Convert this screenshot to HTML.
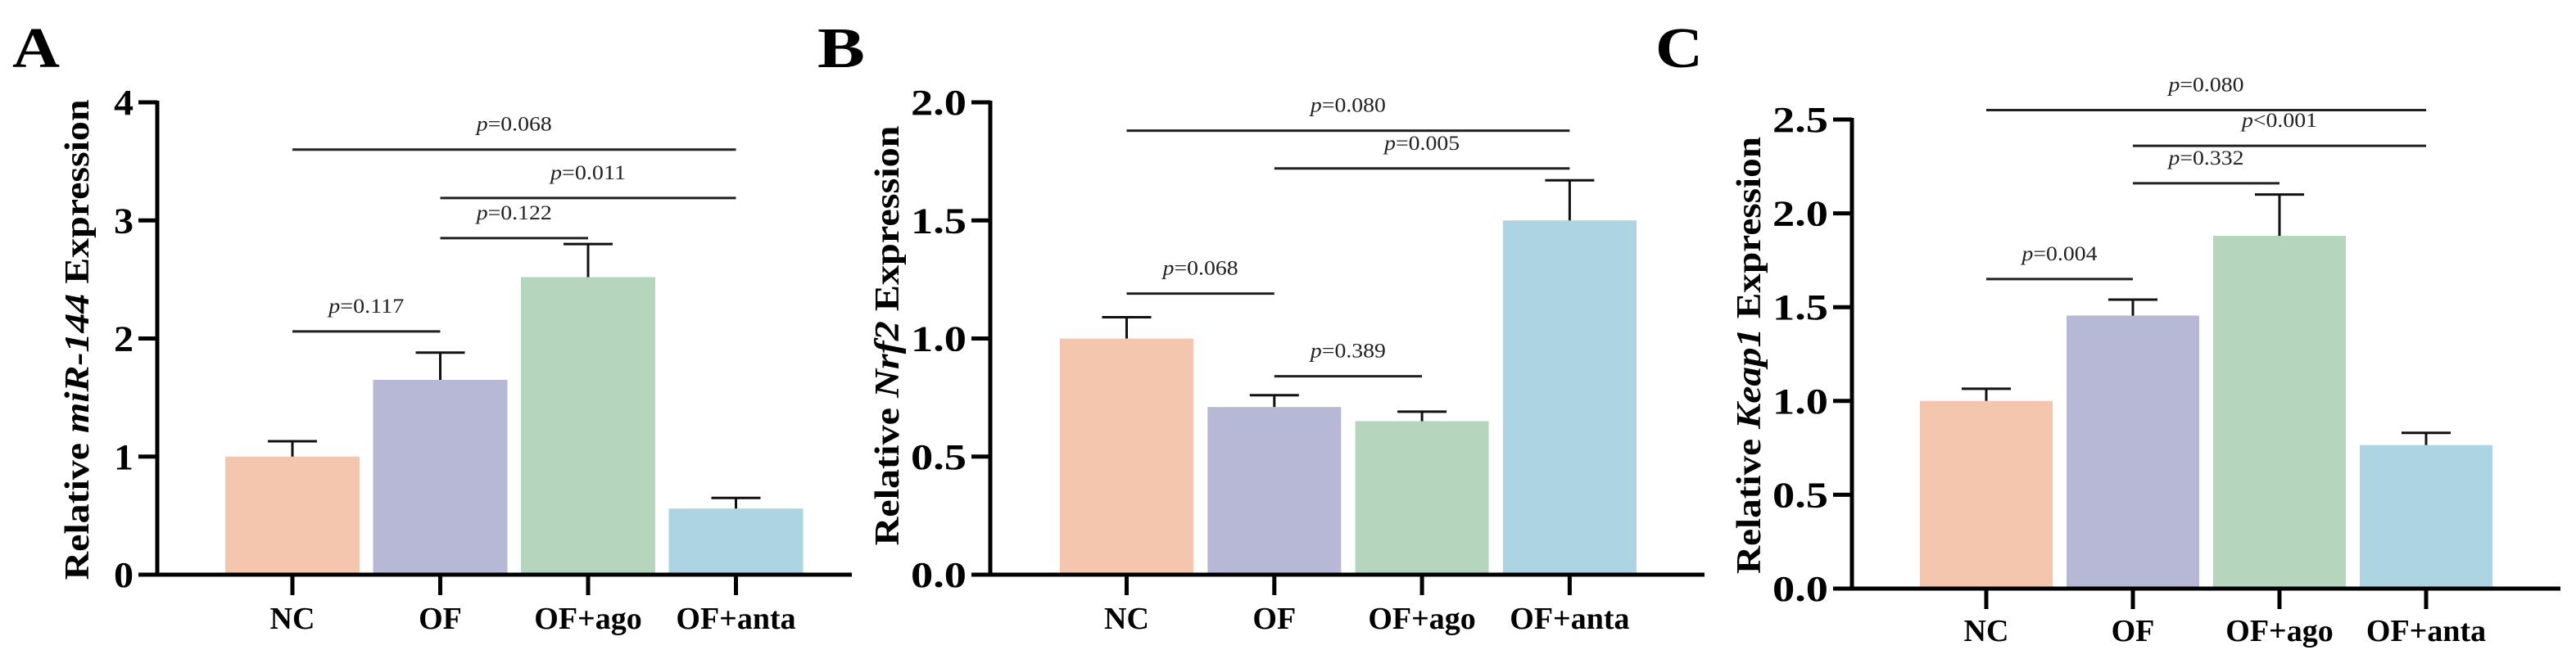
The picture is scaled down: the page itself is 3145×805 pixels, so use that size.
<!DOCTYPE html>
<html><head><meta charset="utf-8"><style>
html,body{margin:0;padding:0;background:#fff;}
svg{display:block;}
</style></head><body>
<svg id="fig" width="3145" height="805" viewBox="0 0 3145 805" xmlns="http://www.w3.org/2000/svg"></svg>
<script>
const categories = ["NC","OF","OF+ago","OF+anta"];
const colors = ["#f5c6ae","#b6b8d6","#b5d5bd","#acd4e3"];
const valuesA = [1.0,1.65,2.52,0.56];
const errA = [1.13,1.88,2.80,0.65];
const valuesB = [1.0,0.71,0.65,1.50];
const errB = [1.09,0.76,0.69,1.67];
const valuesC = [1.0,1.455,1.88,0.765];
const errC = [1.065,1.54,2.10,0.83];
const ticksA = [0,1,2,3,4];
const ticksB = [0,0.5,1.0,1.5,2.0];
const ticksC = [0,0.5,1.0,1.5,2.0,2.5];
const sigPairsA = [[0,3],[1,3],[1,2],[0,1]];
const sigYA = [3.60,3.19,2.85,2.06];
const sigTextA = ["=0.068","=0.011","=0.122","=0.117"];
const sigPairsB = [[0,3],[1,3],[0,1],[1,2]];
const sigYB = [1.88,1.72,1.19,0.84];
const sigTextB = ["=0.080","=0.005","=0.068","=0.389"];
const sigPairsC = [[0,3],[1,3],[1,2],[0,1]];
const sigYC = [2.55,2.36,2.16,1.65];
const sigTextC = ["=0.080","<0.001","=0.332","=0.004"];

const NS="http://www.w3.org/2000/svg";
const svg=document.getElementById('fig');
function mk(tag,attrs,parent){const e=document.createElementNS(NS,tag);for(const k in attrs)e.setAttribute(k,attrs[k]);(parent||svg).appendChild(e);return e;}

const panels=[
 {id:'a',letter:'A',lx:15,ax:192,y0:702,y1:125,vmax:4,xEnd:1040,barL:275,step:180.5,bw:164,vals:valuesA,errs:errA,ticks:ticksA,dec:0,titleX:108,titleY:415,titleLen:587,gene:'miR-144',sp:sigPairsA,sy:sigYA,st:sigTextA,xlabY:768},
 {id:'b',letter:'B',lx:998,ax:1209,y0:702,y1:125,vmax:2,xEnd:2081,barL:1294,step:180.3,bw:163,vals:valuesB,errs:errB,ticks:ticksB,dec:1,titleX:1097,titleY:410,titleLen:513,gene:'Nrf2',sp:sigPairsB,sy:sigYB,st:sigTextB,xlabY:768},
 {id:'c',letter:'C',lx:2021,ax:2261,y0:719,y1:146,vmax:2.5,xEnd:3126,barL:2344,step:179,bw:162,vals:valuesC,errs:errC,ticks:ticksC,dec:1,titleX:2149,titleY:434,titleLen:534,gene:'Keap1',sp:sigPairsC,sy:sigYC,st:sigTextC,xlabY:783}
];

panels.forEach(p=>{
  const g=mk('g',{});
  
  
  const sy=v=>p.y0-(v/p.vmax)*(p.y0-p.y1);
  const cx=i=>p.barL+i*p.step+p.bw/2;
  const L=mk('text',{x:p.lx,y:82,'font-family':'Liberation Serif, serif','font-weight':'bold','font-size':70,textLength:58,lengthAdjust:'spacingAndGlyphs'},g);
  L.textContent=p.letter;
  
  
  p.vals.forEach((v,i)=>{
    const r=mk('rect',{x:p.barL+i*p.step,y:sy(v),width:p.bw,height:p.y0-sy(v),fill:colors[i]},g);
    
    
    const e=mk('path',{d:`M${cx(i)} ${sy(v)}V${sy(p.errs[i])}M${cx(i)-30} ${sy(p.errs[i])}H${cx(i)+30}`,stroke:'#111','stroke-width':3,fill:'none'},g);
    
    
    const t=mk('line',{x1:cx(i),x2:cx(i),y1:p.y0,y2:p.y0+25,stroke:'#000','stroke-width':5},g);
    
    
    const xl=mk('text',{x:cx(i),y:p.xlabY,'text-anchor':'middle','font-family':'Liberation Serif, serif','font-weight':'bold','font-size':38},g);
    xl.textContent=categories[i];
    
    
  });
  const ya=mk('line',{x1:p.ax,x2:p.ax,y1:p.y1-2,y2:p.y0+2,stroke:'#000','stroke-width':5},g);
  
  
  const xa=mk('line',{x1:p.ax-2,x2:p.xEnd,y1:p.y0,y2:p.y0,stroke:'#000','stroke-width':5},g);
  
  
  p.ticks.forEach(v=>{
    const t=mk('line',{x1:p.ax-23,x2:p.ax,y1:sy(v),y2:sy(v),stroke:'#000','stroke-width':5},g);
    
    
    const tl=mk('text',{x:p.ax-29,y:sy(v)+15,'text-anchor':'end','font-family':'Liberation Serif, serif','font-weight':'bold','font-size':44,textLength:p.dec?68:24,lengthAdjust:'spacingAndGlyphs'},g);
    tl.textContent=v.toFixed(p.dec);
    
    
  });
  const yt=mk('text',{x:0,y:0,transform:`translate(${p.titleX},${p.titleY}) rotate(-90)`,'text-anchor':'middle','font-family':'Liberation Serif, serif','font-weight':'bold','font-size':42,textLength:p.titleLen,lengthAdjust:'spacingAndGlyphs'},g);
  yt.innerHTML=`Relative <tspan font-style="italic">${p.gene}</tspan> Expression`;
  
  
  p.sp.forEach((pr,k)=>{
    const y=sy(p.sy[k]);
    const ln=mk('line',{x1:cx(pr[0]),x2:cx(pr[1]),y1:y,y2:y,stroke:'#222','stroke-width':3},g);
    
    
    const tx=mk('text',{x:(cx(pr[0])+cx(pr[1]))/2,y:y-23,'text-anchor':'middle','font-family':'Liberation Serif, serif','font-size':25,fill:'#222',textLength:92,lengthAdjust:'spacingAndGlyphs'},g);
    tx.innerHTML=`<tspan font-style="italic">p</tspan>${p.st[k]}`;
    
    
  });
});
</script>
</body></html>
